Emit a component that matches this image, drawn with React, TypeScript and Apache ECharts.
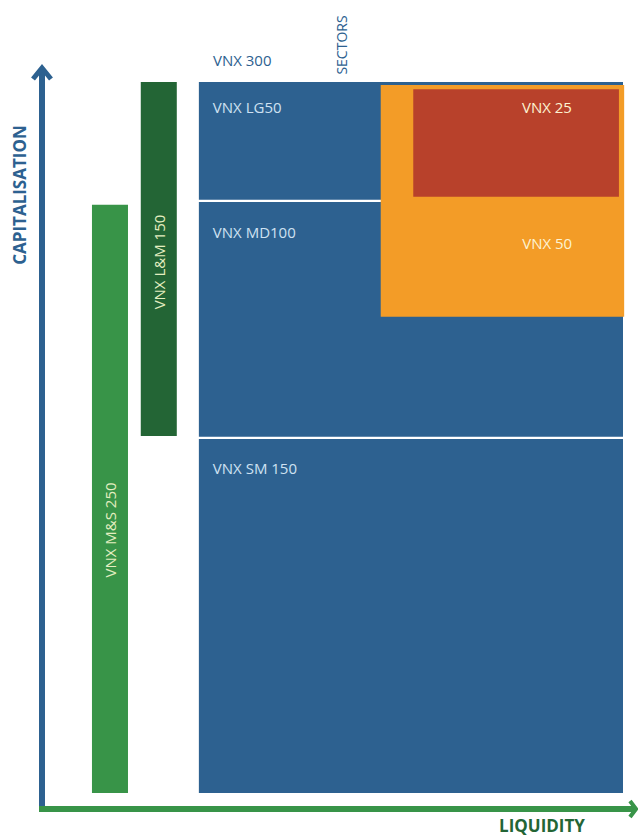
import React, { useEffect, useRef } from "react";
import * as echarts from "echarts";

// Index blocks on a liquidity (x, 0-100) / capitalisation (y, 0-100) plane
const blocks = ["VNX M&S 250", "VNX L&M 150", "VNX SM 150", "VNX MD100", "VNX LG50", "VNX 50", "VNX 25"];
const liqFrom = [8.6, 17.0, 27.0, 27.0, 27.0, 58.3, 63.9];
const liqTo = [14.8, 23.2, 100, 100, 100, 100.2, 99.3];
const capFrom = [2.2, 51.3, 2.2, 51.2, 83.8, 67.7, 84.2];
const capTo = [83.1, 100, 50.9, 83.5, 100, 99.6, 99.0];

const FONT = "'Open Sans', 'Noto Sans', sans-serif";
const BLUE = "#2d6190";
const ORANGE = "#f39c27";
const RED = "#b8412b";
const DKGREEN = "#236535";
const LTGREEN = "#389448";

// styling per block (not data)
const blockStyle: Record<string, any> = {
  "VNX M&S 250": { fill: LTGREEN, text: "#e3eec0", mode: "vertical", dy: 31 },
  "VNX L&M 150": { fill: DKGREEN, text: "#e3eec0", mode: "vertical", dy: 3 },
  "VNX SM 150": { fill: BLUE, text: "#cfe1f2", mode: "topLeft", dx: 14, dy: 29 },
  "VNX MD100": { fill: BLUE, text: "#cfe1f2", mode: "topLeft", dx: 14, dy: 30 },
  "VNX LG50": { fill: BLUE, text: "#cfe1f2", mode: "topLeft", dx: 14, dy: 25 },
  "VNX 50": { fill: ORANGE, text: "#fdf3d2", mode: "topRight", dx: 77, dy: 158 },
  "VNX 25": { fill: RED, text: "#fdf3d2", mode: "topRight", dx: 72, dy: 18 },
};

export default function App() {
  const ref = useRef<HTMLDivElement>(null);
  useEffect(() => {
    document.body.style.margin = "0";
    const chart = echarts.init(ref.current!, null, { renderer: "svg" });
    const data = blocks.map((n, i) => [liqFrom[i], liqTo[i], capFrom[i], capTo[i], n]);
    chart.setOption({
      animation: false,
      grid: { left: 42, right: 15, top: 82, bottom: 27 },
      xAxis: { type: "value", min: 0, max: 100, show: false },
      yAxis: { type: "value", min: 0, max: 100, show: false },
      series: [
        {
          type: "custom",
          clip: false,
          data,
          encode: { x: [0, 1], y: [2, 3] },
          renderItem: (params: any, api: any) => {
            const name = blocks[params.dataIndex];
            const st = blockStyle[name];
            const p0 = api.coord([api.value(0), api.value(3)]);
            const p1 = api.coord([api.value(1), api.value(2)]);
            const w = p1[0] - p0[0];
            const h = p1[1] - p0[1];
            let text: any;
            if (st.mode === "vertical") {
              text = {
                type: "text",
                x: p0[0] + w / 2,
                y: p0[1] + h / 2 + st.dy,
                rotation: Math.PI / 2,
                style: { text: name, fill: st.text, fontSize: 15, fontFamily: FONT, align: "center", verticalAlign: "middle" },
              };
            } else if (st.mode === "topLeft") {
              text = {
                type: "text",
                x: p0[0] + st.dx,
                y: p0[1] + st.dy,
                style: { text: name, fill: st.text, fontSize: 15, fontFamily: FONT, align: "left", verticalAlign: "middle" },
              };
            } else {
              text = {
                type: "text",
                x: p1[0] - st.dx,
                y: p0[1] + st.dy,
                style: { text: name, fill: st.text, fontSize: 15, fontFamily: FONT, align: "center", verticalAlign: "middle" },
              };
            }
            return {
              type: "group",
              children: [
                { type: "rect", shape: { x: p0[0], y: p0[1], width: w, height: h }, style: { fill: st.fill } },
                text,
              ],
            };
          },
        },
      ],
      graphic: [
        // y axis (capitalisation)
        { type: "line", shape: { x1: 42, y1: 812, x2: 42, y2: 68 }, style: { stroke: BLUE, lineWidth: 6 } },
        { type: "polyline", shape: { points: [[33, 79], [42, 68], [51, 79]] }, style: { stroke: BLUE, lineWidth: 5, fill: null } },
        // x axis (liquidity)
        { type: "line", shape: { x1: 39, y1: 809, x2: 634, y2: 809 }, style: { stroke: LTGREEN, lineWidth: 6 } },
        { type: "polyline", shape: { points: [[630, 801], [636, 809], [630, 817]] }, style: { stroke: LTGREEN, lineWidth: 4, fill: null } },
        {
          type: "text", x: 19, y: 195, rotation: Math.PI / 2,
          style: { text: "CAPITALISATION", fill: BLUE, fontSize: 17, fontWeight: "bold", fontFamily: FONT, align: "center", verticalAlign: "middle" },
        },
        {
          type: "text", x: 542, y: 825,
          style: { text: "LIQUIDITY", fill: DKGREEN, fontSize: 17, fontWeight: "bold", fontFamily: FONT, align: "center", verticalAlign: "middle" },
        },
        {
          type: "text", x: 213, y: 60,
          style: { text: "VNX 300", fill: BLUE, fontSize: 15, fontFamily: FONT, align: "left", verticalAlign: "middle" },
        },
        {
          type: "text", x: 341, y: 45, rotation: Math.PI / 2,
          style: { text: "SECTORS", fill: BLUE, fontSize: 14, fontFamily: FONT, align: "center", verticalAlign: "middle" },
        },
      ],
    });
    return () => chart.dispose();
  }, []);
  return <div ref={ref} style={{ width: 638, height: 836 }} />;
}
